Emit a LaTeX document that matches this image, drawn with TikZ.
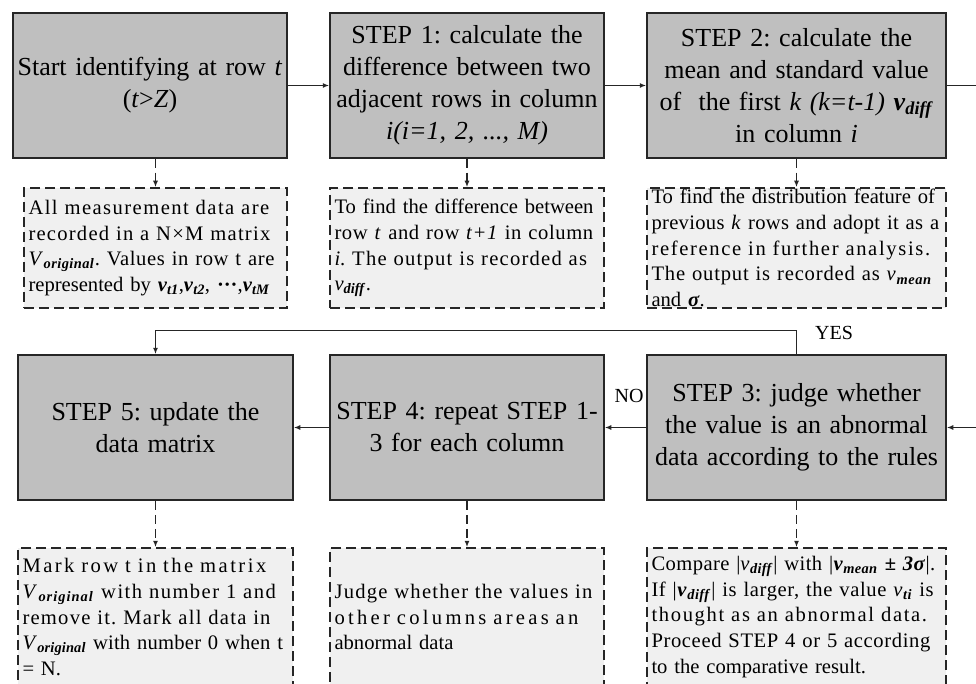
\documentclass[tikz,border=0pt]{standalone}
\usepackage{fontspec}
\setmainfont{Liberation Serif}
\usetikzlibrary{arrows.meta}
\newcommand\bsub[1]{\textsubscript{\textbf{\textit{#1}}}}
\newcommand\lsl[2]{{\addfontfeature{LetterSpace=#1}\makebox[\linewidth][s]{#2}}}
\frenchspacing
\hyphenpenalty=10000
\exhyphenpenalty=10000
\begin{document}
\begin{tikzpicture}[x=1pt,y=-1pt,
  mainbox/.style={draw=black!85,line width=1.5pt,fill=gray!50,inner sep=0pt,minimum height=145pt,align=center,font=\fontsize{26}{32}\selectfont},
  notebox/.style={draw=black!85,line width=1.5pt,dash pattern=on 10pt off 5pt,fill=gray!12,inner ysep=0pt,inner xsep=4.5pt,minimum height=120pt,align=left,font=\fontsize{20.6}{25.8}\selectfont},
  flow/.style={line width=1.4pt,draw=black!85,-{Latex[length=6.5pt,width=5pt]}},
  dflow/.style={flow,dash pattern=on 9pt off 5pt},
  lab/.style={font=\fontsize{20}{24}\selectfont,inner sep=0pt}]
\useasboundingbox (0,0) rectangle (976,684);
\clip (0,0) rectangle (976,684);
% top row
\node[mainbox,minimum width=274pt,text width=272pt] (start) at (150,85.5) {Start identifying at row \textit{t}\\(\textit{t}>\textit{Z})};
\node[mainbox,minimum width=274pt,text width=272pt] (s1) at (467,85.5) {STEP 1: calculate the\\difference between two\\adjacent rows in column\\\textit{i(i=1, 2, ..., M)}};
\node[mainbox,minimum width=299pt,text width=297pt] (s2) at (796.5,85.5) {STEP 2: calculate the\\mean and standard value\\of\ \ the first \textit{k (k=t-1)} \textbf{\textit{v}}\bsub{diff}\\in column \textit{i}};
% bottom row
\node[mainbox,minimum width=275pt,text width=273pt] (s5) at (155.5,427.5) {STEP 5: update the\\data matrix};
\node[mainbox,minimum width=274pt,text width=272pt] (s4) at (467,427.5) {STEP 4: repeat STEP 1-\\3 for each column};
\node[mainbox,minimum width=299pt,text width=297pt] (s3) at (796.5,427.5) {STEP 3: judge whether\\the value is an abnormal\\data according to the rules};
% top notes
\node[notebox,text width=254pt] (n0) at (155.5,248) {%
\lsl{7}{All measurement data are}\\
\lsl{6}{recorded in a N×M matrix}\\
\lsl{3}{\textit{V}\bsub{original}. Values in row t are}\\
represented by \textbf{\textit{v}}\bsub{t1},\textbf{\textit{v}}\bsub{t2}, \textbf{···},\textbf{\textit{v}}\bsub{tM}};
\node[notebox,text width=265pt] (n1) at (467,248) {%
\lsl{0}{To find the difference between}\\
\lsl{3}{row \textit{t} and row \textit{t+1} in column}\\
\lsl{6}{\textit{i}. The output is recorded as}\\
\textit{v}\bsub{diff}.};
\node[notebox,text width=290pt] (n2) at (796.5,248) {%
\lsl{0}{To find the distribution feature of}\\
\lsl{1.5}{previous \textit{k} rows and adopt it as a}\\
\lsl{8}{reference in further analysis.}\\
\lsl{4}{The output is recorded as \textit{v}\bsub{mean}}\\
and \textbf{\textit{σ}}.};
% bottom notes
\node[notebox,text width=266pt,minimum height=138pt] (n5) at (155.5,617) {%
\lsl{12}{Mark row t in the matrix}\\
\lsl{7}{\textit{V}\bsub{original} with number 1 and}\\
\lsl{6}{remove it. Mark all data in}\\
\lsl{1}{\textit{V}\bsub{original} with number 0 when t}\\
= N.};
\node[notebox,text width=265pt,minimum height=138pt] (n4) at (467,617) {%
\lsl{6}{Judge whether the values in}\\
\lsl{16}{other columns areas an}\\
abnormal data};
\node[notebox,text width=290pt,minimum height=138pt] (n3) at (796.5,617) {%
\lsl{2}{Compare |\textit{v}\bsub{diff}| with |\textbf{\textit{v}}\bsub{mean} \textbf{\textit{± 3σ}}|.}\\
\lsl{3}{If |\textbf{\textit{v}}\bsub{diff}| is larger, the value \textit{v}\bsub{ti} is}\\
\lsl{8}{thought as an abnormal data.}\\
\lsl{3}{Proceed STEP 4 or 5 according}\\
to the comparative result.};
% connectors
\coordinate (outA) at (990,85.5);
\coordinate (outB) at (990,427.5);
\draw[flow] (start.east) -- (s1.west);
\draw[flow] (s1.east) -- (s2.west);
\draw[line width=1.4pt,draw=black!85] (s2.east) -- (outA);
\draw[flow] (outB) -- (s3.east);
\draw[flow] (s3.west) -- (s4.east);
\draw[flow] (s4.west) -- (s5.east);
\draw[flow] (s3.north) -- ++(0,-24) -| (s5.north);
\draw[dflow] (start.south -| n0.north) -- (n0.north);
\draw[dflow] (s1.south) -- (n1.north);
\draw[dflow] (s2.south) -- (n2.north);
\draw[dflow] (s5.south) -- (n5.north);
\draw[dflow] (s4.south) -- (n4.north);
\draw[dflow] (s3.south) -- (n3.north);
\node[lab] (yes) at (834,333) {YES};
\node[lab] (no) at (629,396) {NO};
\end{tikzpicture}
\end{document}
